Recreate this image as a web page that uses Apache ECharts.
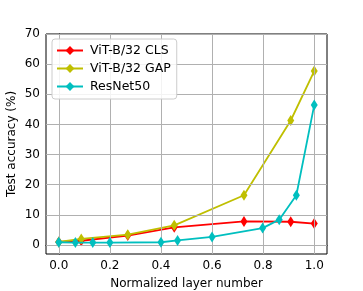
<!DOCTYPE html>
<html><head><meta charset="utf-8">
<script src="https://cdn.jsdelivr.net/npm/echarts@6/dist/echarts.min.js"></script>
<style>html,body{margin:0;padding:0;background:#fff}#c{width:363px;height:291px}</style>
</head><body><div id="c"></div>
<script>
const clsX = [0.0, 0.088, 0.27, 0.452, 0.725, 0.908, 1.0];
const clsY = [1.0, 1.4, 3.1, 5.85, 7.8, 7.7, 7.1];
const gapX = [0.0, 0.088, 0.27, 0.452, 0.725, 0.908, 1.0];
const gapY = [1.0, 2.0, 3.4, 6.5, 16.5, 41.3, 57.7];
const resX = [0.0, 0.065, 0.133, 0.2, 0.4, 0.465, 0.6, 0.798, 0.863, 0.93, 1.0];
const resY = [0.9, 0.8, 0.8, 0.8, 0.9, 1.5, 2.65, 5.6, 8.4, 16.5, 46.4];
const xTicks = [0.0, 0.2, 0.4, 0.6, 0.8, 1.0];
const yTicks = [0, 10, 20, 30, 40, 50, 60, 70];
const names = ['ViT-B/32 CLS', 'ViT-B/32 GAP', 'ResNet50'];
const colors = ['#ff0000', '#bfbf00', '#00bfbf'];

const font = 'DejaVu Sans';
const fs = 12;
function pts(xs, ys){ return xs.map((x,i)=>[x, ys[i]]); }
const chart = echarts.init(document.getElementById('c'), null, {renderer:'canvas'});
const mk = (i, xs, ys) => ({
  name: names[i], type: 'line', data: pts(xs, ys),
  symbol: 'diamond', symbolSize: [7, 11],
  lineStyle: {color: colors[i], width: 1.8},
  itemStyle: {color: colors[i]},
  z: 3 + i, animation: false
});
const gridLines = {
  type: 'line', data: [], z: 1, silent: true, animation: false,
  markLine: {
    silent: true, symbol: ['none', 'none'], animation: false,
    label: {show: false},
    lineStyle: {color: '#b0b0b0', width: 1, type: 'solid'},
    emphasis: {disabled: true},
    data: xTicks.map(v => ({xAxis: v})).concat(yTicks.map(v => ({yAxis: v})))
  }
};
chart.setOption({
  animation: false,
  textStyle: {fontFamily: font},
  grid: {left: 46, right: 36, top: 34, bottom: 37, outerBoundsMode: 'none', containLabel: false,
         show: true, borderColor: '#000', borderWidth: 1, z: 2},
  legend: {
    orient: 'vertical', left: 52, top: 39, z: 50,
    data: names,
    itemWidth: 26, itemHeight: 11, itemGap: 5,
    padding: [5, 6, 6, 4],
    borderColor: '#cccccc', borderWidth: 1, borderRadius: 3,
    backgroundColor: 'rgba(255,255,255,0.85)',
    textStyle: {fontFamily: font, fontSize: 12.5, lineHeight: 12.5, color: '#000', padding: [0,0,0,2]}
  },
  xAxis: {
    type: 'value', min: -0.05, max: 1.05,
    name: 'Normalized layer number', nameLocation: 'middle', nameGap: 24, nameMoveOverlap: false,
    nameTextStyle: {fontFamily: font, fontSize: fs, color: '#000'},
    axisLine: {show: true, lineStyle: {color: '#000', width: 1}},
    axisTick: {show: true, length: 3.5, lineStyle: {color: '#000'}, customValues: xTicks},
    axisLabel: {customValues: xTicks, formatter: v => v.toFixed(1), color: '#000', fontSize: fs, fontFamily: font, margin: 6},
    splitLine: {show: false}
  },
  yAxis: {
    type: 'value', min: -3, max: 70,
    name: 'Test accuracy (%)', nameLocation: 'middle', nameGap: 28, nameMoveOverlap: false,
    nameTextStyle: {fontFamily: font, fontSize: fs, color: '#000'},
    axisLine: {show: true, lineStyle: {color: '#000', width: 1}},
    axisTick: {show: true, length: 3.5, lineStyle: {color: '#000'}, customValues: yTicks},
    axisLabel: {customValues: yTicks, color: '#000', fontSize: fs, fontFamily: font, margin: 6},
    splitLine: {show: false}
  },
  series: [gridLines, mk(0, clsX, clsY), mk(1, gapX, gapY), mk(2, resX, resY)]
});
</script></body></html>
